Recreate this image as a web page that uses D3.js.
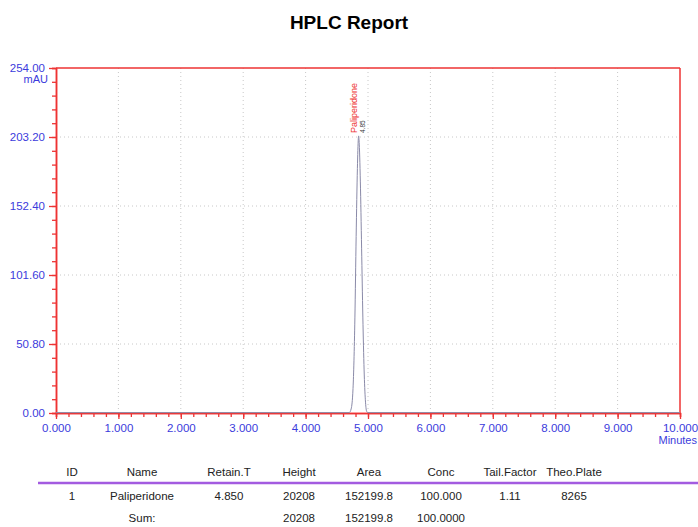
<!DOCTYPE html>
<html>
<head>
<meta charset="utf-8">
<script src="https://cdn.jsdelivr.net/npm/d3@7"></script>
<style>
  body { margin: 0; background: #fff; }
  svg { font-family: "Liberation Sans", Arial, sans-serif; }
</style>
</head>
<body>
<div id="chart"></div>
<script>
// chromatogram signal (minutes, mAU)
var times   = [0, 4.70, 4.73, 4.76, 4.79, 4.81, 4.83, 4.845, 4.85, 4.86, 4.88, 4.90, 4.92, 4.94, 4.96, 4.98, 5.00, 10];
var signal  = [0.3, 0.3, 3, 18, 70, 130, 180, 202, 204, 198, 165, 115, 65, 28, 8, 1, 0.3, 0.3];

var yTicks = [0, 50.8, 101.6, 152.4, 203.2, 254];
var xTicks = [0, 1, 2, 3, 4, 5, 6, 7, 8, 9, 10];

var peakName = "Paliperidone";
var peakTime = 4.85;
var peakTop = 204;

var tableHead = ["ID", "Name", "Retain.T", "Height", "Area", "Conc", "Tail.Factor", "Theo.Plate"];
var tableRow1 = ["1", "Paliperidone", "4.850", "20208", "152199.8", "100.000", "1.11", "8265"];
var tableSum  = ["", "Sum:", "", "20208", "152199.8", "100.0000", "", ""];
var colX      = [72, 142, 229, 299, 369, 441, 510, 574];

var margin = {top: 68, right: 18, bottom: 114, left: 56},
    W = 698, H = 527,
    width = W - margin.left - margin.right,
    height = H - margin.top - margin.bottom;

var blue = "#3b3bdc", red = "#ee3333";

var svg = d3.select("#chart")
  .append("svg")
    .attr("width", W)
    .attr("height", H);

svg.append("text")
  .attr("x", 349).attr("y", 29)
  .attr("text-anchor", "middle")
  .attr("font-size", 19).attr("font-weight", "bold")
  .text("HPLC Report");

var g = svg.append("g")
  .attr("transform", "translate(" + margin.left + "," + margin.top + ")");

var x = d3.scaleLinear().domain([0, 10]).range([0, width]);
var y = d3.scaleLinear().domain([0, 254]).range([height, 0]);

// grid
g.selectAll(".vgrid").data(xTicks.slice(1, -1)).enter().append("line")
  .attr("x1", d => x(d)).attr("x2", d => x(d))
  .attr("y1", 0).attr("y2", height)
  .attr("stroke", "#c8c8c8").attr("stroke-dasharray", "1,3");
g.selectAll(".hgrid").data(yTicks.slice(1, -1)).enter().append("line")
  .attr("x1", 0).attr("x2", width)
  .attr("y1", d => y(d)).attr("y2", d => y(d))
  .attr("stroke", "#c8c8c8").attr("stroke-dasharray", "1,3");

// frame top / right
g.append("line").attr("x1", 0).attr("x2", width).attr("y1", 0).attr("y2", 0)
  .attr("stroke", red).attr("stroke-width", 1.5);
g.append("line").attr("x1", width).attr("x2", width).attr("y1", 0).attr("y2", height)
  .attr("stroke", red).attr("stroke-width", 1.5);

// minor ticks
var xMinor = d3.range(0, 10.01, 0.2);
var yMinor = d3.range(0, 254.1, 10.16);
var xAxisMinor = g.append("g")
  .attr("transform", "translate(0," + height + ")")
  .call(d3.axisBottom(x).tickValues(xMinor).tickSize(4).tickFormat(""));
var yAxisMinor = g.append("g")
  .call(d3.axisLeft(y).tickValues(yMinor).tickSize(4).tickFormat(""));

// major axes
var xAxis = g.append("g")
  .attr("transform", "translate(0," + height + ")")
  .call(d3.axisBottom(x).tickValues(xTicks).tickSize(6).tickSizeOuter(0).tickFormat(d3.format(".3f")));
var yAxis = g.append("g")
  .call(d3.axisLeft(y).tickValues(yTicks).tickSize(7).tickSizeOuter(0).tickFormat(d3.format(".2f")));

[xAxisMinor, yAxisMinor, xAxis, yAxis].forEach(function(a) {
  a.selectAll("path").attr("stroke", red).attr("stroke-width", 1.5);
  a.selectAll("line").attr("stroke", red).attr("stroke-width", 1.3);
  a.selectAll("text").attr("fill", blue).attr("font-size", 11.5)
    .attr("font-family", "Liberation Sans, Arial, sans-serif");
});
xAxis.selectAll("text").attr("dy", "0.9em");
yAxis.selectAll("text").attr("dx", "-1px");

g.append("text").attr("x", -8).attr("y", 15)
  .attr("text-anchor", "end").attr("fill", blue).attr("font-size", 11)
  .text("mAU");
g.append("text").attr("x", W - margin.left - 1).attr("y", height + 31)
  .attr("text-anchor", "end").attr("fill", blue).attr("font-size", 11)
  .text("Minutes");

// signal
g.append("path")
  .datum(times.map(function(t, i) { return [t, signal[i]]; }))
  .attr("fill", "none")
  .attr("stroke", "#8a8aa8")
  .attr("stroke-width", 1)
  .attr("d", d3.line()
    .x(function(d) { return x(d[0]); })
    .y(function(d) { return y(d[1]); })
    .curve(d3.curveMonotoneX));

// peak labels
g.append("text")
  .attr("transform", "translate(" + (x(peakTime) - 2) + "," + (y(peakTop) - 3) + ") rotate(-90)")
  .attr("fill", red).attr("font-size", 9)
  .text(peakName);
g.append("text")
  .attr("transform", "translate(" + (x(peakTime) + 6) + "," + (y(peakTop) - 3) + ") rotate(-90)")
  .attr("fill", "#333").attr("font-size", 6.5)
  .text(peakTime.toFixed(2));

// table
var tbl = svg.append("g").attr("font-size", 11.5).attr("fill", "#222");
function row(vals, yy) {
  tbl.append("g").selectAll("text").data(vals).enter().append("text")
    .attr("x", (d, i) => colX[i]).attr("y", yy)
    .attr("text-anchor", "middle")
    .text(d => d);
}
row(tableHead, 476);
tbl.append("line").attr("x1", 38).attr("x2", 698).attr("y1", 483).attr("y2", 483)
  .attr("stroke", "#a35be0").attr("stroke-width", 2.5);
row(tableRow1, 500);
row(tableSum, 522);
</script>
</body>
</html>
